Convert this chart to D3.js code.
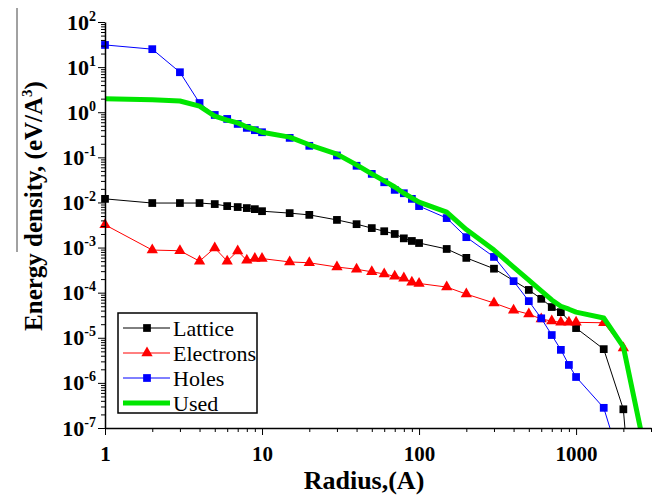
<!DOCTYPE html>
<html>
<head>
<meta charset="utf-8">
<script src="https://cdn.jsdelivr.net/npm/d3@7"></script>
<style>
  body { margin: 0; background: #fff; }
  svg { display: block; }
</style>
</head>
<body>
<div id="chart"></div>
<script>
// Radius values (Angstrom) and energy densities (eV/A^3)
const latticeR = [1,2,3,4,5,6,7,8,9,10,15,20,30,40,50,60,70,80,90,100,150,200,300,500,600,700,800,1000,1500,2000,2200];
const latticeE = [0.012,0.0097,0.0097,0.0097,0.0092,0.0083,0.0079,0.0075,0.0071,0.0064,0.0058,0.0053,0.0041,0.0033,0.0027,0.0023,0.0020,0.0016,0.0014,0.00126,9.3e-4,5.9e-4,3.4e-4,1.15e-4,7.3e-5,4.8e-5,3.7e-5,1.64e-5,5.6e-6,2.6e-7,5e-9];

const electronsR = [1,2,3,4,5,6,7,8,9,10,15,20,30,40,50,60,70,80,90,100,150,200,300,400,500,600,700,800,900,1000,1500,2000];
const electronsE = [0.0032,8.8e-4,8.5e-4,5.0e-4,9.8e-4,5.0e-4,8.4e-4,5.2e-4,5.7e-4,5.7e-4,4.8e-4,4.6e-4,3.7e-4,3.3e-4,2.9e-4,2.6e-4,2.3e-4,2.1e-4,1.7e-4,1.6e-4,1.33e-4,9.3e-5,5.9e-5,4.1e-5,3.35e-5,2.6e-5,2.35e-5,2.2e-5,2.2e-5,2.2e-5,2.15e-5,5.9e-6];

const holesR = [1,2,3,4,5,6,7,8,9,10,15,20,30,40,50,60,70,80,90,100,150,200,300,400,500,600,700,800,900,1000,1500,2000];
const holesE = [31,25,7.7,1.6,0.87,0.71,0.55,0.45,0.40,0.36,0.27,0.18,0.11,0.065,0.043,0.028,0.019,0.016,0.012,0.0083,0.0045,0.0017,6.2e-4,1.8e-4,6.5e-5,2.7e-5,1.15e-5,5.4e-6,2.5e-6,1.35e-6,2.8e-7,1.1e-8];

const usedR = [1,2,3,4,5,6,7,8,9,10,15,20,30,40,50,60,70,80,90,100,150,200,300,400,500,600,700,800,900,1000,1500,2000,2600];
const usedE = [2.0,1.9,1.77,1.37,0.82,0.67,0.58,0.47,0.42,0.36,0.28,0.19,0.118,0.068,0.043,0.030,0.022,0.016,0.0126,0.0102,0.0061,0.0025,8.8e-4,3.7e-4,1.9e-4,1.1e-4,6.9e-5,5.0e-5,4.3e-5,3.7e-5,2.75e-5,6.3e-6,8e-8];

const xMajor = [1,10,100,1000];
const yExponents = [-7,-6,-5,-4,-3,-2,-1,0,1,2];

const series = [
  {name: "Lattice",   r: latticeR,   e: latticeE,   color: "#000000", marker: "square",   width: 1},
  {name: "Electrons", r: electronsR, e: electronsE, color: "#ff0000", marker: "triangle", width: 1},
  {name: "Holes",     r: holesR,     e: holesE,     color: "#0000ff", marker: "square",   width: 1},
  {name: "Used",      r: usedR,      e: usedE,      color: "#00e600", marker: null,       width: 5}
];

// Set Dimensions
const width = 659, height = 496;
const plotLeft = 105, plotRight = 651, plotTop = 22, plotBottom = 428;

const svg = d3.select("#chart").append("svg")
  .attr("width", width)
  .attr("height", height);

const x = d3.scaleLog().domain([1, 3000]).range([plotLeft, plotRight]);
const y = d3.scaleLog().domain([1e-7, 1e2]).range([plotBottom, plotTop]);

// minor ticks
const xMinor = [];
for (let p = 0; p < 4; p++) for (let k = 2; k <= 9; k++) if (k * Math.pow(10, p) <= 3000) xMinor.push(k * Math.pow(10, p));
const yMinor = [];
for (let p = -7; p < 2; p++) for (let k = 2; k <= 9; k++) yMinor.push(k * Math.pow(10, p));

svg.append("clipPath").attr("id", "plotClip")
  .append("rect").attr("x", plotLeft - 6).attr("y", plotTop).attr("width", plotRight - plotLeft + 6).attr("height", plotBottom - plotTop);

const plot = svg.append("g").attr("clip-path", "url(#plotClip)");

const line = d3.line().x(d => x(d[0])).y(d => y(d[1]));
const sq = d3.symbol().type(d3.symbolSquare).size(60);
const tri = d3.symbol().type(d3.symbolTriangle).size(55);

series.forEach(s => {
  const pts = s.r.map((r, i) => [r, s.e[i]]);
  plot.append("path")
    .datum(pts)
    .attr("d", line)
    .attr("fill", "none")
    .attr("stroke", s.color)
    .attr("stroke-width", s.width)
    .attr("stroke-linejoin", "round");
  if (s.marker) {
    plot.selectAll(null).data(pts).enter()
      .append("path")
      .attr("d", s.marker === "square" ? sq() : tri())
      .attr("transform", d => `translate(${x(d[0])},${y(d[1])})`)
      .attr("fill", s.color);
  }
});

// X Axis
const axisFont = "'Liberation Serif', 'Times New Roman', serif";
svg.append("g")
  .attr("transform", `translate(0,${plotBottom})`)
  .call(d3.axisBottom(x).tickValues(xMinor).tickSize(4).tickFormat(""))
  .call(g => g.select(".domain").remove());
const xAxis = svg.append("g")
  .attr("transform", `translate(0,${plotBottom})`)
  .call(d3.axisBottom(x).tickValues(xMajor).tickSize(7).tickSizeOuter(0).tickFormat(d3.format("d")));
xAxis.select(".domain").attr("stroke-width", 1.5);
xAxis.selectAll("text")
  .attr("y", 18).attr("dy", "0.71em")
  .style("font-family", axisFont).style("font-weight", "bold").style("font-size", "21px").attr("fill", "#000");

// Y Axis
svg.append("g")
  .attr("transform", `translate(${plotLeft},0)`)
  .call(d3.axisLeft(y).tickValues(yMinor).tickSize(4).tickFormat(""))
  .call(g => g.select(".domain").remove());
const yAxis = svg.append("g")
  .attr("transform", `translate(${plotLeft},0)`)
  .call(d3.axisLeft(y).tickValues(yExponents.map(n => Math.pow(10, n))).tickSize(7).tickSizeOuter(0).tickFormat(""));
yAxis.select(".domain").attr("stroke-width", 1.5);
yAxis.selectAll(".tick").each(function(d) {
  const n = Math.round(Math.log10(d));
  const t = d3.select(this).append("text")
    .attr("x", -9).attr("y", 7)
    .attr("text-anchor", "end")
    .attr("fill", "#000")
    .style("font-family", axisFont).style("font-weight", "bold").style("font-size", "22px");
  t.append("tspan").text("10");
  t.append("tspan").attr("dy", -9).style("font-size", "14px").text(n);
});

// axis titles
svg.append("text")
  .attr("x", 364).attr("y", 489)
  .attr("text-anchor", "middle")
  .style("font-family", axisFont).style("font-weight", "bold").style("font-size", "26px")
  .text("Radius,(A)");

const yTitle = svg.append("text")
  .attr("transform", "translate(42,206) rotate(-90)")
  .attr("text-anchor", "middle")
  .style("font-family", axisFont).style("font-weight", "bold").style("font-size", "25px");
yTitle.append("tspan").text("Energy density, (eV/A");
yTitle.append("tspan").attr("dy", -10).style("font-size", "15px").text("3");
yTitle.append("tspan").attr("dy", 10).text(")");

// stray crop line from the source page
svg.append("line")
  .attr("x1", 17).attr("x2", 17).attr("y1", 8).attr("y2", 252)
  .attr("stroke", "#444").attr("stroke-width", 1);

// Legend
const legend = svg.append("g");
legend.append("rect")
  .attr("x", 118).attr("y", 313).attr("width", 139).attr("height", 100)
  .attr("fill", "#fff").attr("stroke", "#000").attr("stroke-width", 1.5);
series.forEach((s, i) => {
  const ly = 328 + i * 25;
  legend.append("line")
    .attr("x1", 123).attr("x2", 170).attr("y1", ly).attr("y2", ly)
    .attr("stroke", s.color).attr("stroke-width", s.width);
  if (s.marker) {
    legend.append("path")
      .attr("d", s.marker === "square" ? sq() : tri())
      .attr("transform", `translate(147,${ly})`)
      .attr("fill", s.color);
  }
  legend.append("text")
    .attr("x", 173).attr("y", ly).attr("dy", "0.35em")
    .style("font-family", axisFont).style("font-size", "22px")
    .text(s.name);
});
</script>
</body>
</html>
